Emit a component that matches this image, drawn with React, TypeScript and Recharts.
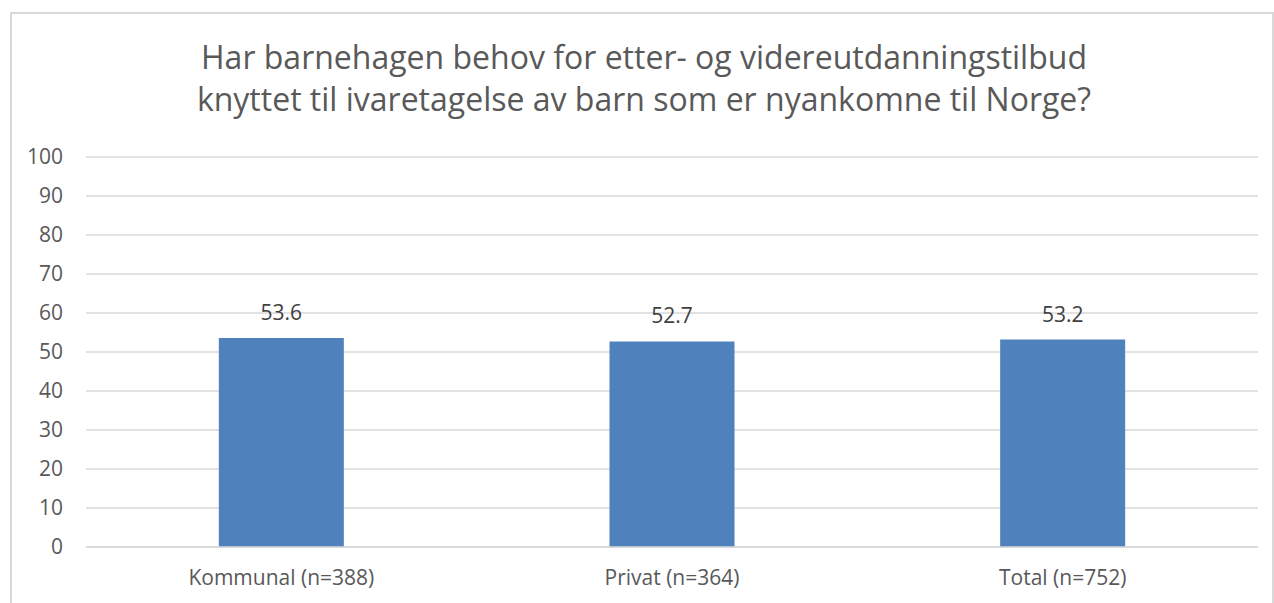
import { BarChart, Bar, XAxis, YAxis, CartesianGrid, LabelList } from "recharts";

const categories = ["Kommunal (n=388)", "Privat (n=364)", "Total (n=752)"];
const shares = [53.6, 52.7, 53.2];
const yTicks = [0, 10, 20, 30, 40, 50, 60, 70, 80, 90, 100];
const titleLines = [
  "Har barnehagen behov for etter- og videreutdanningstilbud",
  "knyttet til ivaretagelse av barn som er nyankomne til Norge?",
];

const FONT = "'Open Sans', 'Liberation Sans', sans-serif";

export default function App() {
  const data = categories.map((name, i) => ({ name, value: shares[i] }));

  return (
    <div style={{ position: "absolute", left: 0, top: 0, width: 1274, height: 603, background: "#fff", overflow: "hidden", fontFamily: FONT }}>
      <div
        style={{
          position: "absolute",
          left: 10,
          top: 12,
          width: 1260,
          height: 620,
          border: "2px solid #d9d9d9",
        }}
      />
      <div
        style={{
          position: "absolute",
          left: 12,
          width: 1264,
          top: 36,
          textAlign: "center",
          color: "#595959",
          fontSize: 32,
          lineHeight: "42px",
        }}
      >
        {titleLines.map((t) => (
          <div key={t}>{t}</div>
        ))}
      </div>
      <div style={{ position: "absolute", left: 0, top: 0 }}>
        <BarChart
          width={1274}
          height={603}
          data={data}
          margin={{ top: 157, right: 16, bottom: 0, left: 0 }}
          barCategoryGap="34%"
        >
          <CartesianGrid vertical={false} stroke="#d9d9d9" strokeWidth={1.5} />
          <XAxis
            dataKey="name"
            height={56}
            axisLine={{ stroke: "#d9d9d9", strokeWidth: 1.5 }}
            tickLine={false}
            tickMargin={17}
            tick={{ fill: "#595959", fontSize: 21, fontFamily: FONT }}
          />
          <YAxis
            width={86}
            domain={[0, 100]}
            ticks={yTicks}
            interval={0}
            axisLine={false}
            tickLine={false}
            tickMargin={17}
            tick={{ fill: "#595959", fontSize: 21, fontFamily: FONT }}
          />
          <Bar dataKey="value" fill="#4f81bd" isAnimationActive={false}>
            <LabelList
              dataKey="value"
              position="top"
              offset={18}
              fill="#404040"
              fontSize={21}
              fontFamily={FONT}
              formatter={(v: number) => v.toFixed(1)}
            />
          </Bar>
        </BarChart>
      </div>
    </div>
  );
}
